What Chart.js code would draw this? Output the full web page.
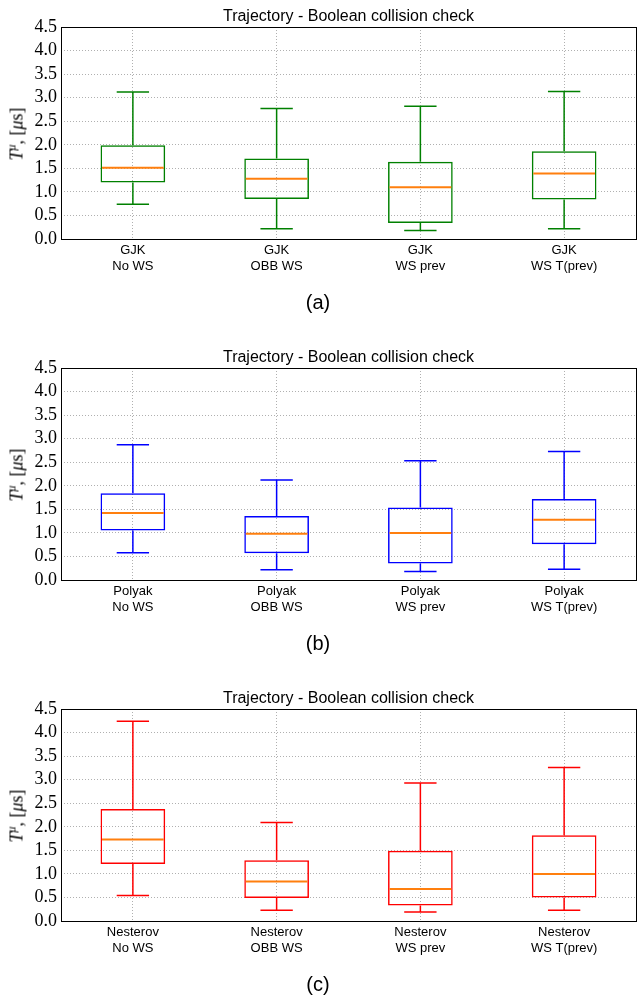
<!DOCTYPE html>
<html>
<head>
<meta charset="utf-8">
<script src="https://cdn.jsdelivr.net/npm/chart.js@4.4.1/dist/chart.umd.min.js"></script>
<style>
  body { margin: 0; width: 637px; height: 999px; overflow: hidden; background: #fff; }
  .panel { position: absolute; left: 0; width: 637px; height: 341px; }
  .ylab {
    position: absolute; left: 17px; top: 134px;
    transform: translate(-50%, -50%) rotate(-90deg);
    font: 18px "Liberation Serif", serif; white-space: nowrap; color: #000;
  }
  .ylab sup { font-size: 12px; vertical-align: 7px; line-height: 0; }
</style>
</head>
<body>
<div class="panel" style="top:0px"><canvas id="c0" width="637" height="341"></canvas>
  <div class="ylab"><i>T</i><sup><i>μ</i></sup>, [<i>μ</i>s]</div></div>
<div class="panel" style="top:341px"><canvas id="c1" width="637" height="341"></canvas>
  <div class="ylab"><i>T</i><sup><i>μ</i></sup>, [<i>μ</i>s]</div></div>
<div class="panel" style="top:682px"><canvas id="c2" width="637" height="341"></canvas>
  <div class="ylab"><i>T</i><sup><i>μ</i></sup>, [<i>μ</i>s]</div></div>
<script>
const variants = ['No WS', 'OBB WS', 'WS prev', 'WS T(prev)'];
const methods = ['GJK', 'Polyak', 'Nesterov'];
const captions = ['(a)', '(b)', '(c)'];
const colors = ['#008000', '#0000ff', '#ff0000'];
const yTicks = [0, 0.5, 1, 1.5, 2, 2.5, 3, 3.5, 4, 4.5];

// whisker low, Q1, median, Q3, whisker high
const gjkLow  = [0.74, 0.22, 0.18, 0.22];
const gjkQ1   = [1.20, 0.85, 0.34, 0.84];
const gjkMed  = [1.51, 1.28, 1.10, 1.39];
const gjkQ3   = [1.99, 1.71, 1.64, 1.86];
const gjkHigh = [3.12, 2.77, 2.82, 3.13];

const polLow  = [0.58, 0.22, 0.18, 0.23];
const polQ1   = [1.05, 0.57, 0.35, 0.76];
const polMed  = [1.42, 0.98, 1.00, 1.28];
const polQ3   = [1.84, 1.36, 1.54, 1.72];
const polHigh = [2.87, 2.12, 2.53, 2.73];

const nesLow  = [0.54, 0.23, 0.19, 0.23];
const nesQ1   = [1.21, 0.49, 0.33, 0.50];
const nesMed  = [1.73, 0.84, 0.68, 1.00];
const nesQ3   = [2.38, 1.29, 1.49, 1.82];
const nesHigh = [4.24, 2.09, 2.93, 3.26];

const stats = [
  [gjkLow, gjkQ1, gjkMed, gjkQ3, gjkHigh],
  [polLow, polQ1, polMed, polQ3, polHigh],
  [nesLow, nesQ1, nesMed, nesQ3, nesHigh],
];

const framePlugin = {
  id: 'frame',
  beforeDatasetsDraw(chart) {
    const { ctx, chartArea: a } = chart;
    ctx.save();
    ctx.strokeStyle = '#000';
    ctx.lineWidth = 1;
    ctx.strokeRect(a.left + 0.5, a.top + 0.5, a.right - a.left, a.bottom - a.top);
    ctx.restore();
  }
};

const whiskerPlugin = {
  id: 'whiskers',
  afterDatasetsDraw(chart) {
    const ds = chart.data.datasets[0];
    const meta = chart.getDatasetMeta(0);
    const y = chart.scales.y;
    const ctx = chart.ctx;
    ctx.save();
    meta.data.forEach((bar, i) => {
      const x = bar.x;
      const half = bar.width / 2;
      const yLo = y.getPixelForValue(ds.low[i]);
      const yQ1 = y.getPixelForValue(ds.q1[i]);
      const yQ3 = y.getPixelForValue(ds.q3[i]);
      const yHi = y.getPixelForValue(ds.high[i]);
      ctx.strokeStyle = ds.borderColor;
      ctx.lineWidth = 1.5;
      ctx.beginPath();
      ctx.moveTo(x, yLo); ctx.lineTo(x, yQ1);
      ctx.moveTo(x, yQ3); ctx.lineTo(x, yHi);
      ctx.moveTo(x - half / 2, yLo); ctx.lineTo(x + half / 2, yLo);
      ctx.moveTo(x - half / 2, yHi); ctx.lineTo(x + half / 2, yHi);
      ctx.stroke();
      const yMed = y.getPixelForValue(ds.med[i]);
      ctx.strokeStyle = '#ff7f0e';
      ctx.lineWidth = 2;
      ctx.beginPath();
      ctx.moveTo(x - half + 1.5, yMed); ctx.lineTo(x + half - 1.5, yMed);
      ctx.stroke();
    });
    ctx.restore();
  }
};

methods.forEach((m, k) => {
  const [low, q1, med, q3, high] = stats[k];
  new Chart(document.getElementById('c' + k), {
    type: 'bar',
    data: {
      labels: variants.map(v => [m, v]),
      datasets: [{
        data: q1.map((v, i) => [v, q3[i]]),
        low, q1, med, q3, high,
        borderColor: colors[k],
        backgroundColor: 'rgba(0,0,0,0)',
        borderWidth: 1.5,
        borderSkipped: false,
        barPercentage: 0.45,
        categoryPercentage: 1,
      }]
    },
    options: {
      responsive: false,
      animation: false,
      layout: { padding: { right: 1 } },
      plugins: {
        legend: { display: false },
        tooltip: { enabled: false },
        title: {
          display: true,
          text: 'Trajectory - Boolean collision check',
          fullSize: false,
          color: '#000',
          font: { family: 'Liberation Sans', size: 16, weight: 'normal', lineHeight: 1.125 },
          padding: { top: 8, bottom: 1 },
        },
        subtitle: {
          display: true,
          position: 'bottom',
          text: captions[k],
          color: '#000',
          font: { family: 'Liberation Sans', size: 20, weight: 'normal', lineHeight: 1.2 },
          padding: { top: 0, bottom: 26 },
        }
      },
      scales: {
        x: {
          afterFit: s => { s.height = 52; },
          grid: { offset: false, drawTicks: false, color: '#b0b0b0', lineWidth: 1 },
          border: { display: false, dash: [1, 2] },
          ticks: {
            color: '#000', padding: 4,
            font: { family: 'Liberation Sans', size: 13, lineHeight: 1.2 },
          }
        },
        y: {
          min: 0, max: 4.5,
          afterFit: s => { s.width = 61; },
          afterBuildTicks: s => { s.ticks = yTicks.map(v => ({ value: v })); },
          grid: { drawTicks: false, color: '#b0b0b0', lineWidth: 1 },
          border: { display: false, dash: [1, 2] },
          ticks: {
            color: '#000', padding: 4, autoSkip: false,
            font: { family: 'Liberation Serif', size: 18 },
            callback: v => Number(v).toFixed(1),
          }
        }
      }
    },
    plugins: [framePlugin, whiskerPlugin]
  });
});
</script>
</body>
</html>
